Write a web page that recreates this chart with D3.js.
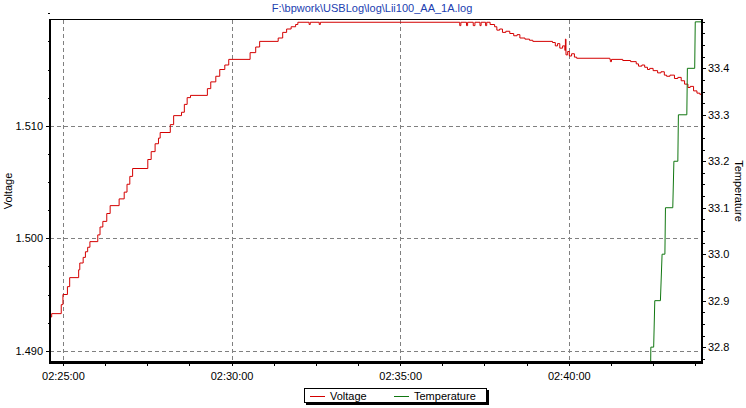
<!DOCTYPE html>
<html lang="en">
<head>
<meta charset="utf-8" />
<title>Lii100 log</title>
<style>
  body { margin: 0; background: #fff; }
  svg text { font-family: "Liberation Sans", Arial, sans-serif; font-size: 11px; fill: #000; }
  .grid line { stroke: #808080; stroke-dasharray: 4,3; shape-rendering: crispEdges; }
  .axis line { stroke: #000; shape-rendering: crispEdges; }
  .axis path { display: none; }
  .frame { stroke: #000; shape-rendering: crispEdges; }
</style>
</head>
<body>
<div id="chart"></div>
<script src="https://d3js.org/d3.v7.min.js"></script>
<script>
// ---- data ----
var voltTimes = ["02:24:37","02:24:40","02:24:57","02:25:00","02:25:08","02:25:12","02:25:28","02:25:30",
  "02:25:36","02:25:40","02:25:44","02:25:48","02:26:02","02:26:06","02:26:11","02:26:18","02:26:24",
  "02:26:40","02:26:49","02:26:54","02:26:59","02:27:04","02:27:31","02:27:37","02:27:44","02:27:50",
  "02:27:53","02:28:11","02:28:17","02:28:31","02:28:36","02:28:41","02:28:47","02:29:17","02:29:23",
  "02:29:32","02:29:39","02:29:48","02:29:55","02:30:33","02:30:43","02:30:50","02:31:23","02:31:31",
  "02:31:38","02:31:46","02:31:54","02:31:58","02:32:18","02:32:20","02:32:36","02:32:38",
  "02:36:46","02:36:48","02:36:58","02:37:00","02:37:10","02:37:13","02:37:22","02:37:24","02:37:32",
  "02:37:34","02:37:40","02:37:48","02:37:52","02:37:57","02:38:02","02:38:08","02:38:15","02:38:22",
  "02:38:28","02:38:33","02:38:42","02:38:50","02:38:56","02:39:31","02:39:36","02:39:40","02:39:44",
  "02:39:49","02:39:53","02:39:54","02:39:55","02:39:58","02:40:01","02:40:05","02:40:10","02:40:14",
  "02:41:13","02:41:14","02:41:16","02:41:36","02:41:50","02:42:00","02:42:04","02:42:10","02:42:15",
  "02:42:20","02:42:24","02:42:30","02:42:38","02:42:44","02:42:50","02:42:54","02:43:00","02:43:08",
  "02:43:14","02:43:20","02:43:26","02:43:32","02:43:36","02:43:42","02:43:48","02:43:53","02:43:57"];
var voltValues = [1.4930,1.4933,1.4941,1.4950,1.4957,1.4965,1.4972,1.4978,
  1.4983,1.4988,1.4992,1.4997,1.5003,1.5010,1.5015,1.5022,1.5029,
  1.5035,1.5041,1.5048,1.5055,1.5062,1.5070,1.5077,1.5084,1.5089,
  1.5094,1.5101,1.5109,1.5112,1.5119,1.5125,1.5127,1.5133,1.5139,
  1.5144,1.5150,1.5154,1.5159,1.5165,1.5170,1.5175,1.5178,1.5183,
  1.5186,1.5188,1.5190,1.5192,1.5190,1.5192,1.5190,1.5192,
  1.5189,1.5192,1.5189,1.5192,1.5189,1.5192,1.5189,1.5192,1.5189,
  1.5192,1.5190,1.5188,1.5185,1.5186,1.5183,1.5184,1.5182,1.5180,
  1.5181,1.5178,1.5177,1.5176,1.5175,1.5174,1.5171,1.5173,1.5169,
  1.5171,1.5167,1.5177,1.5163,1.5166,1.5162,1.5164,1.5161,1.5160,
  1.5159,1.5157,1.5159,1.5158,1.5157,1.5155,1.5153,1.5154,1.5152,
  1.5150,1.5151,1.5149,1.5147,1.5148,1.5145,1.5144,1.5145,1.5142,
  1.5143,1.5140,1.5137,1.5134,1.5135,1.5131,1.5129,1.5128,1.5128];

var tempTimes = ["02:42:25","02:42:26","02:42:31","02:42:33","02:42:43","02:42:46","02:42:51","02:42:52",
  "02:43:05","02:43:07","02:43:14","02:43:15","02:43:30","02:43:31","02:43:44","02:43:45","02:43:57"];
var tempValues = [32.7,32.8,32.8,32.9,32.9,33.0,33.0,33.1,
  33.1,33.2,33.2,33.3,33.3,33.4,33.4,33.5,33.5];

var timeTicks = ["02:25:00","02:30:00","02:35:00","02:40:00"];
var voltTicks = [1.490, 1.500, 1.510];
var tempTicks = [32.8, 32.9, 33.0, 33.1, 33.2, 33.3, 33.4];
var seriesNames = ["Voltage", "Temperature"];
var seriesColors = ["#d40000", "#117711"];

// ---- layout ----
var width = 746, height = 408;
var plotLeft = 50, plotRight = 702, plotTop = 20, plotBottom = 362;

var parse = d3.timeParse("%H:%M:%S");

var svg = d3.select("#chart").append("svg")
  .attr("width", width).attr("height", height);

var x = d3.scaleTime()
  .domain([parse("02:24:37"), parse("02:43:57")])
  .range([plotLeft, plotRight]);
var yV = d3.scaleLinear().domain([1.4890, 1.5194]).range([plotBottom, plotTop]);
var yT = d3.scaleLinear().domain([32.768, 33.504]).range([plotBottom, plotTop]);

var minorTimes = d3.range(0, 16).map(function(i) {
  return new Date(parse("02:25:00").getTime() + i * 75000);
}).filter(function(d) { return d <= x.domain()[1]; });

// grid
var grid = svg.append("g").attr("class", "grid");
grid.selectAll(".gx").data(timeTicks).enter().append("line")
  .attr("x1", function(d) { return Math.round(x(parse(d))) + 0.5; })
  .attr("x2", function(d) { return Math.round(x(parse(d))) + 0.5; })
  .attr("y1", plotTop).attr("y2", plotBottom);
grid.selectAll(".gy").data(voltTicks).enter().append("line")
  .attr("x1", plotLeft).attr("x2", plotRight)
  .attr("y1", function(d) { return Math.round(yV(d)) + 0.5; })
  .attr("y2", function(d) { return Math.round(yV(d)) + 0.5; });

// series
svg.append("clipPath").attr("id", "plot")
  .append("rect").attr("x", plotLeft).attr("y", plotTop)
  .attr("width", plotRight - plotLeft).attr("height", plotBottom - plotTop);

var voltData = voltTimes.map(function(t, i) { return [parse(t), voltValues[i]]; });
var tempData = tempTimes.map(function(t, i) { return [parse(t), tempValues[i]]; });

svg.append("path")
  .datum(voltData)
  .attr("clip-path", "url(#plot)")
  .attr("fill", "none")
  .attr("stroke", seriesColors[0])
  .attr("stroke-width", 1)
  .attr("d", d3.line().curve(d3.curveStepAfter)
    .x(function(d) { return x(d[0]); })
    .y(function(d) { return yV(d[1]); }));

svg.append("path")
  .datum(tempData)
  .attr("clip-path", "url(#plot)")
  .attr("fill", "none")
  .attr("stroke", seriesColors[1])
  .attr("stroke-width", 1)
  .attr("d", d3.line()
    .x(function(d) { return x(d[0]); })
    .y(function(d) { return yT(d[1]); }));

// axes
var fmtTime = d3.timeFormat("%H:%M:%S");

svg.append("g").attr("class", "axis")
  .attr("transform", "translate(0," + plotBottom + ")")
  .call(d3.axisBottom(x).tickValues(minorTimes).tickSize(4).tickFormat(""));
svg.append("g").attr("class", "axis")
  .attr("transform", "translate(0," + plotBottom + ")")
  .call(d3.axisBottom(x).tickValues(timeTicks.map(parse)).tickSize(4).tickPadding(6)
    .tickFormat(fmtTime));

svg.append("g").attr("class", "axis")
  .attr("transform", "translate(" + plotLeft + ",0)")
  .call(d3.axisLeft(yV).tickValues(d3.range(0, 13).map(function(i) { return 1.4900 + i * 0.0025; }))
    .tickSize(2).tickFormat(""));
svg.append("g").attr("class", "axis")
  .attr("transform", "translate(" + plotLeft + ",0)")
  .call(d3.axisLeft(yV).tickValues(voltTicks).tickSize(4).tickPadding(3)
    .tickFormat(d3.format(".3f")));

svg.append("g").attr("class", "axis")
  .attr("transform", "translate(" + plotRight + ",0)")
  .call(d3.axisRight(yT).tickValues(d3.range(0, 30).map(function(i) { return 32.775 + i * 0.025; }))
    .tickSize(3).tickFormat(""));
svg.append("g").attr("class", "axis")
  .attr("transform", "translate(" + plotRight + ",0)")
  .call(d3.axisRight(yT).tickValues(tempTicks).tickSize(4).tickPadding(2)
    .tickFormat(d3.format(".1f")));

// frame
svg.append("line").attr("class", "frame")
  .attr("x1", plotLeft).attr("x2", plotRight).attr("y1", plotTop - 0.5).attr("y2", plotTop - 0.5);
svg.append("line").attr("class", "frame").attr("stroke-width", 2)
  .attr("x1", plotLeft).attr("x2", plotLeft).attr("y1", plotTop - 1).attr("y2", plotBottom + 2);
svg.append("line").attr("class", "frame").attr("stroke-width", 2)
  .attr("x1", plotRight).attr("x2", plotRight).attr("y1", plotTop - 1).attr("y2", plotBottom + 2);
svg.append("line").attr("class", "frame").attr("stroke-width", 3)
  .attr("x1", plotLeft - 1).attr("x2", plotRight + 1).attr("y1", plotBottom + 0.5).attr("y2", plotBottom + 0.5);

// titles
svg.append("text")
  .attr("x", 372).attr("y", 12)
  .attr("text-anchor", "middle")
  .style("fill", "#2040b0")
  .text("F:\\bpwork\\USBLog\\log\\Lii100_AA_1A.log");

svg.append("text")
  .attr("transform", "translate(12,191) rotate(-90)")
  .attr("text-anchor", "middle")
  .text("Voltage");

svg.append("text")
  .attr("transform", "translate(735,191) rotate(90)")
  .attr("text-anchor", "middle")
  .text("Temperature");

// legend
var lg = svg.append("g").attr("transform", "translate(304,388)");
lg.append("rect").attr("x", 2).attr("y", 2).attr("width", 183).attr("height", 15).attr("fill", "#000");
lg.append("rect").attr("x", 0.5).attr("y", 0.5).attr("width", 182).attr("height", 14)
  .attr("fill", "#fff").attr("stroke", "#000").style("shape-rendering", "crispEdges");
var itemX = [6, 90];
seriesNames.forEach(function(name, i) {
  lg.append("line")
    .attr("x1", itemX[i]).attr("x2", itemX[i] + 15)
    .attr("y1", 8.5).attr("y2", 8.5)
    .attr("stroke", seriesColors[i]);
  lg.append("text")
    .attr("x", itemX[i] + 20).attr("y", 12)
    .text(name);
});
</script>
</body>
</html>
